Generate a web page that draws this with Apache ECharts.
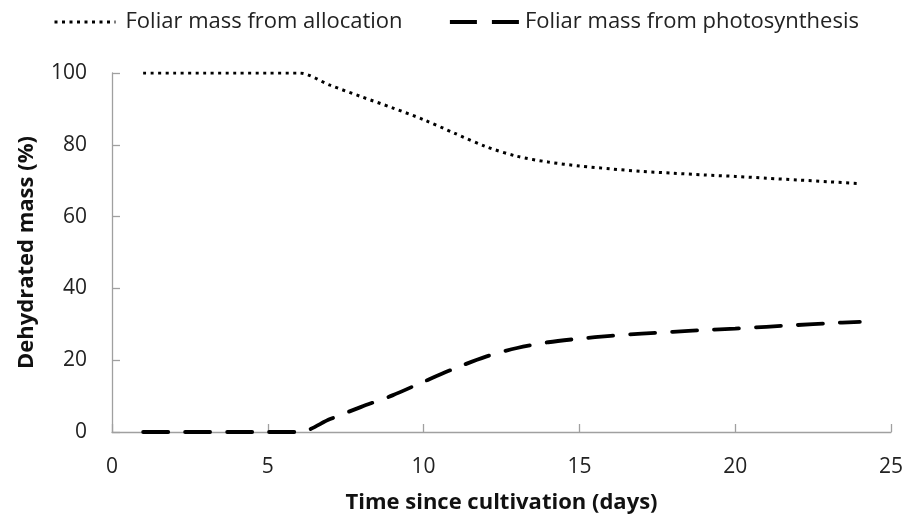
<!DOCTYPE html>
<html>
<head>
<meta charset="utf-8">
<script src="https://cdn.jsdelivr.net/npm/echarts@6/dist/echarts.min.js"></script>
<style>
  html, body { margin: 0; padding: 0; background: #fff; }
  #chart { width: 908px; height: 522px; }
</style>
</head>
<body>
<div id="chart"></div>
<script>
// days since cultivation
var days = [1, 2, 3, 4, 5, 6, 7, 8, 9, 10, 11, 12, 13, 14, 15, 16, 17, 18, 19, 20, 21, 22, 23, 24];
// foliar mass from allocation (%)
var allocation = [100, 100, 100, 100, 100, 100, 96.6, 93.4, 90.3, 87, 83.2, 79.5, 76.8, 75.2, 74.1, 73.3, 72.6, 72.1, 71.6, 71.2, 70.7, 70.2, 69.7, 69.2];
// foliar mass from photosynthesis (%)
var photosynthesis = [0, 0, 0, 0, 0, 0, 3.6, 7, 10.2, 14, 17.7, 21, 23.4, 25, 26, 26.8, 27.4, 27.9, 28.4, 28.8, 29.3, 29.8, 30.3, 30.7];

var seriesNames = ['Foliar mass from allocation', 'Foliar mass from photosynthesis'];

function pairs(xs, ys) {
    var out = [];
    for (var i = 0; i < xs.length; i++) {
        out.push([xs[i], ys[i]]);
    }
    return out;
}

var fontName = 'Open Sans';
var axisGray = '#a0a0a0';
var dotted = { color: '#000', width: 3, type: [3, 4.5], cap: 'butt' };
var dashed = { color: '#000', width: 3.8, type: [25, 17], cap: 'round' };

var chart = echarts.init(document.getElementById('chart'), null, { renderer: 'canvas' });

var option = {
    animation: false,
    backgroundColor: '#fff',
    grid: { left: 112, right: 17, top: 73, bottom: 90 },
    legend: [{
        data: [seriesNames[0]],
        left: 48,
        top: 6,
        itemWidth: 61,
        itemHeight: 14,
        itemStyle: { opacity: 0 },
        lineStyle: { color: '#000', width: 3, type: [3, 4.5], cap: 'butt' },
        textStyle: { fontFamily: fontName, fontSize: 22, color: '#222', padding: [0, 0, 0, 5] }
    }, {
        data: [seriesNames[1]],
        left: 443,
        top: 6,
        itemWidth: 70,
        itemHeight: 14,
        itemStyle: { opacity: 0 },
        lineStyle: { color: '#000', width: 3.8, type: [27, 15], cap: 'butt' },
        textStyle: { fontFamily: fontName, fontSize: 22, color: '#222' }
    }],
    xAxis: {
        type: 'value',
        min: 0,
        max: 25,
        interval: 5,
        name: 'Time since cultivation (days)',
        nameLocation: 'middle',
        nameGap: 60,
        nameTextStyle: { fontFamily: fontName, fontSize: 22, fontWeight: 'bold', color: '#111' },
        axisLine: { show: true, lineStyle: { color: axisGray, width: 1.3 } },
        axisTick: { show: true, inside: true, length: 8, lineStyle: { color: axisGray, width: 1.3 } },
        axisLabel: { margin: 25, fontFamily: fontName, fontSize: 21, color: '#222' },
        splitLine: { show: false }
    },
    yAxis: {
        type: 'value',
        min: 0,
        max: 100,
        interval: 20,
        name: 'Dehydrated mass (%)',
        nameLocation: 'middle',
        nameGap: 74,
        nameRotate: 90,
        nameTextStyle: { fontFamily: fontName, fontSize: 22, fontWeight: 'bold', color: '#111' },
        axisLine: { show: true, lineStyle: { color: axisGray, width: 1.3 } },
        axisTick: { show: true, inside: true, length: 8, lineStyle: { color: axisGray, width: 1.3 } },
        axisLabel: { margin: 25, fontFamily: fontName, fontSize: 21, color: '#222' },
        splitLine: { show: false }
    },
    series: [{
        name: seriesNames[0],
        type: 'line',
        data: pairs(days, allocation),
        smooth: 0.3,
        showSymbol: false,
        symbol: 'none',
        itemStyle: { color: '#000' },
        lineStyle: dotted
    }, {
        name: seriesNames[1],
        type: 'line',
        data: pairs(days, photosynthesis),
        smooth: 0.3,
        showSymbol: false,
        symbol: 'none',
        itemStyle: { color: '#000' },
        lineStyle: dashed
    }]
};

chart.setOption(option);
</script>
</body>
</html>
